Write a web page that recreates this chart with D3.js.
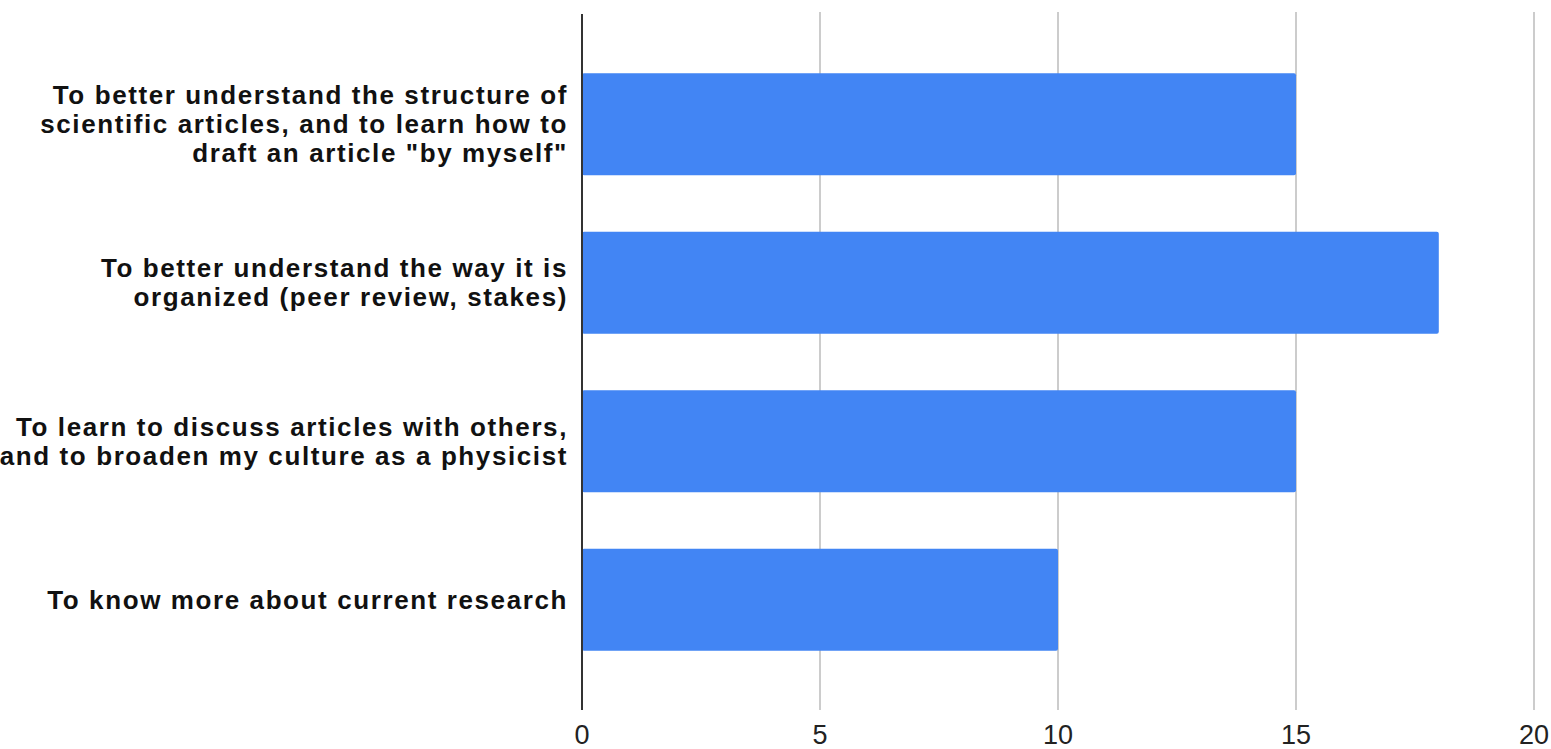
<!DOCTYPE html>
<html>
<head>
<meta charset="utf-8">
<script src="https://cdn.jsdelivr.net/npm/d3@7"></script>
<style>
  body { margin: 0; background: #fff; }
  svg { display: block; font-family: "Liberation Sans", Arial, sans-serif; }
</style>
</head>
<body>
<div id="chart"></div>
<script>
var categories = [
  ["To better understand the structure of", "scientific articles, and to learn how to", "draft an article \"by myself\""],
  ["To better understand the way it is", "organized (peer review, stakes)"],
  ["To learn to discuss articles with others,", "and to broaden my culture as a physicist"],
  ["To know more about current research"]
]
var values = [15, 18, 15, 10]
var ticks = [0, 5, 10, 15, 20]

var width = 1551
var height = 749
var plotLeft = 582, plotRight = 1534
var plotTop = 14, plotBottom = 710

var svg = d3.select("#chart").append("svg")
  .attr("width", width)
  .attr("height", height)

var x = d3.scaleLinear().domain([0, 20]).range([plotLeft, plotRight])
var y = d3.scaleBand()
  .domain(d3.range(categories.length))
  .range([plotTop, plotBottom])
  .paddingInner(0.356)
  .paddingOuter(0.374)

// grid lines
svg.selectAll(".grid")
  .data(ticks.slice(1))
  .enter().append("line")
  .attr("x1", d => x(d)).attr("x2", d => x(d))
  .attr("y1", 12).attr("y2", plotBottom)
  .attr("stroke", "#cccccc")
  .attr("stroke-width", 2)

// bars
svg.selectAll(".bar")
  .data(values)
  .enter().append("rect")
  .attr("x", x(0))
  .attr("y", (d, i) => y(i))
  .attr("width", d => x(d) - x(0))
  .attr("height", y.bandwidth())
  .attr("rx", 2)
  .attr("fill", "#4285f4")

// axis line
svg.append("line")
  .attr("x1", x(0)).attr("x2", x(0))
  .attr("y1", 14).attr("y2", plotBottom)
  .attr("stroke", "#333333")
  .attr("stroke-width", 2)

// tick labels
svg.selectAll(".tick")
  .data(ticks)
  .enter().append("text")
  .attr("x", d => x(d))
  .attr("y", 744)
  .attr("text-anchor", "middle")
  .attr("font-size", 27)
  .attr("fill", "#222")
  .text(d => d)

// category labels
var lineH = 29
svg.selectAll(".cat")
  .data(categories)
  .enter().append("text")
  .attr("text-anchor", "end")
  .attr("font-size", 26)
  .attr("font-weight", "bold")
  .attr("letter-spacing", 1.6)
  .attr("fill", "#111")
  .each(function (lines, i) {
    var cy = y(i) + y.bandwidth() / 2
    var y0 = cy - (lines.length - 1) * lineH / 2 + 9
    d3.select(this).selectAll("tspan")
      .data(lines)
      .enter().append("tspan")
      .attr("x", 568)
      .attr("y", (l, j) => y0 + j * lineH)
      .text(l => l)
  })
</script>
</body>
</html>
